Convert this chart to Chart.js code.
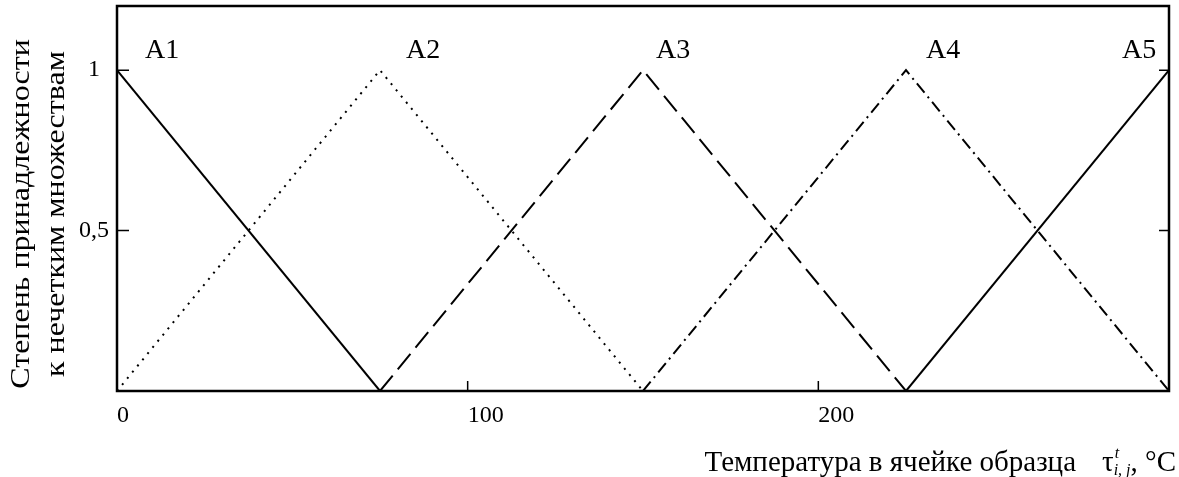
<!DOCTYPE html>
<html>
<head>
<meta charset="utf-8">
<script src="https://cdn.jsdelivr.net/npm/chart.js@4"></script>
<style>
  body { margin: 0; background: #fff; }
  #wrap { width: 1179px; height: 477px; }
</style>
</head>
<body>
<div id="wrap"><canvas id="chart" width="1179" height="477"></canvas></div>
<script>
// fuzzy sets over temperature
const setNames = ["A1", "A2", "A3", "A4", "A5"];
const temps = [0, 75, 150, 225, 300];
const muA1 = [1, 0, null, null, null];
const muA2 = [0, 1, 0, null, null];
const muA3 = [null, 0, 1, 0, null];
const muA4 = [null, null, 0, 1, 0];
const muA5 = [null, null, null, 0, 1];

const xTicks = [0, 100, 200];
const xTickLabels = ["0", "100", "200"];
const yTicks = [0.5, 1];
const yTickLabels = ["0,5", "1"];

const yTitle = ["Степень принадлежности", "к нечетким множествам"];
const xTitle = "Температура в ячейке образца";

const serif = "'Liberation Serif', 'DejaVu Serif', serif";
const dashes = [[], [2, 6], [20, 8], [12, 5, 2, 5], []];
const series = [muA1, muA2, muA3, muA4, muA5];

function noPad(s) {
  s.paddingTop = 0; s.paddingBottom = 0; s.paddingLeft = 0; s.paddingRight = 0;
}

const decorations = {
  id: "decorations",
  afterDraw(chart) {
    const ctx = chart.ctx;
    const area = chart.chartArea;
    const x = chart.scales.x, y = chart.scales.y;
    ctx.save();
    ctx.strokeStyle = "#000";
    ctx.fillStyle = "#000";

    // frame
    ctx.lineWidth = 2.5;
    ctx.strokeRect(area.left, area.top, area.right - area.left, area.bottom - area.top);

    // inward ticks
    ctx.lineWidth = 1.5;
    ctx.beginPath();
    xTicks.forEach(v => {
      if (v === 0) return;
      const px = x.getPixelForValue(v);
      ctx.moveTo(px, area.bottom);
      ctx.lineTo(px, area.bottom - 10);
    });
    yTicks.forEach(v => {
      const py = y.getPixelForValue(v);
      ctx.moveTo(area.left, py);
      ctx.lineTo(area.left + 12, py);
      ctx.moveTo(area.right, py);
      ctx.lineTo(area.right - 10, py);
    });
    ctx.stroke();

    // set names near the peaks
    const offsets = [28, 26, 13, 20, -47];
    ctx.font = "28px " + serif;
    ctx.textAlign = "left";
    ctx.textBaseline = "alphabetic";
    setNames.forEach((n, i) => {
      const px = x.getPixelForValue(temps[i]);
      ctx.fillText(n, px + offsets[i], y.getPixelForValue(1) - 12);
    });

    // x axis title: text, then tau with super/subscript, laid out from the right
    const base = 471;
    const big = "29px " + serif;
    const small = "italic 16px " + serif;
    ctx.textAlign = "left";
    ctx.font = big;
    const wMain = ctx.measureText(xTitle).width;
    const wTau = ctx.measureText("τ").width;
    const wTail = ctx.measureText(", °C").width;
    ctx.font = small;
    const wSub = ctx.measureText("i, j").width;
    const gap = 26;
    let cx = 1176 - (wMain + gap + wTau + wSub + wTail);
    ctx.font = big;
    ctx.fillText(xTitle, cx, base);
    cx += wMain + gap;
    ctx.fillText("τ", cx, base);
    cx += wTau;
    ctx.font = small;
    ctx.fillText("t", cx + 1, base - 13);
    ctx.fillText("i, j", cx, base + 4);
    cx += wSub;
    ctx.font = big;
    ctx.fillText(", °C", cx, base);

    // y axis title, two rotated lines
    ctx.save();
    ctx.translate(0, 214);
    ctx.rotate(-Math.PI / 2);
    ctx.textAlign = "center";
    ctx.textBaseline = "middle";
    ctx.font = "32px " + serif;
    ctx.save();
    ctx.translate(0, 22);
    ctx.scale(1, 0.86);
    ctx.fillText(yTitle[0], 0, 0);
    ctx.restore();
    ctx.save();
    ctx.translate(0, 57);
    ctx.scale(1, 0.86);
    ctx.fillText(yTitle[1], 0, 0);
    ctx.restore();
    ctx.restore();

    ctx.restore();
  }
};

new Chart(document.getElementById("chart"), {
  type: "line",
  data: {
    datasets: setNames.map((name, i) => ({
      label: name,
      data: temps.map((t, j) => ({ x: t, y: series[i][j] })),
      borderColor: "#000",
      borderWidth: 2,
      borderDash: dashes[i],
      pointRadius: 0,
      tension: 0,
      fill: false,
      spanGaps: false
    }))
  },
  options: {
    responsive: false,
    animation: false,
    layout: { padding: { top: 6, right: 10, left: 0, bottom: 0 } },
    plugins: { legend: { display: false }, tooltip: { enabled: false } },
    scales: {
      x: {
        type: "linear",
        min: 0,
        max: 300,
        afterBuildTicks: s => { s.ticks = xTicks.map(v => ({ value: v })); },
        afterFit: s => { s.height = 86; noPad(s); },
        ticks: {
          align: "start",
          padding: 2,
          color: "#000",
          font: { family: serif, size: 24 },
          callback: v => xTickLabels[xTicks.indexOf(v)]
        },
        grid: { display: false },
        border: { display: false }
      },
      y: {
        type: "linear",
        min: 0,
        max: 1.2,
        afterBuildTicks: s => { s.ticks = yTicks.map(v => ({ value: v })); },
        afterFit: s => { s.width = 117; noPad(s); },
        ticks: {
          crossAlign: "center",
          padding: 0,
          color: "#000",
          font: { family: serif, size: 24 },
          callback: v => yTickLabels[yTicks.indexOf(v)]
        },
        grid: { display: false },
        border: { display: false }
      }
    }
  },
  plugins: [decorations]
});
</script>
</body>
</html>
